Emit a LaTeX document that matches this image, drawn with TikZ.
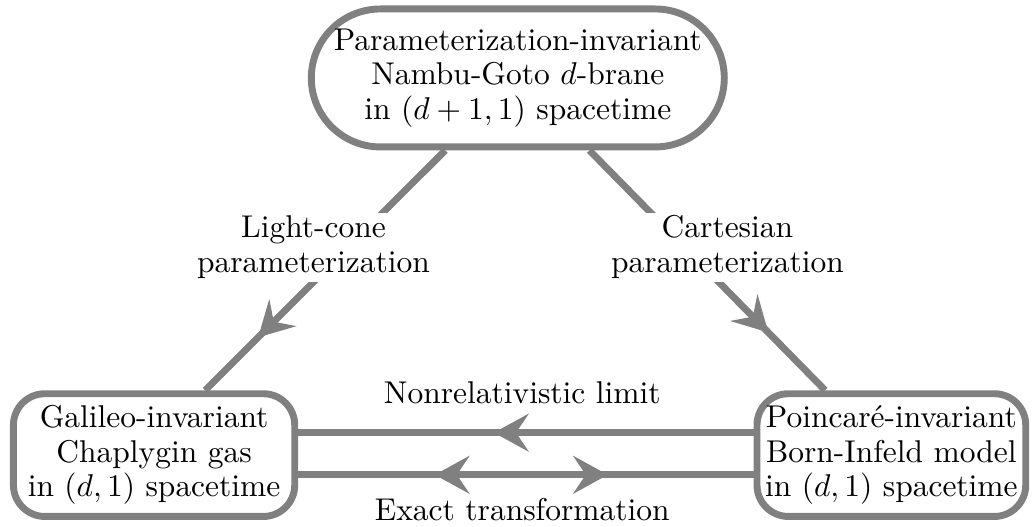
\documentclass[tikz,border=0pt]{standalone}
\usepackage{amsmath}
\usepackage{tikz}
\usetikzlibrary{decorations.markings,arrows.meta,shapes}
\newcommand{\linew}{2.2pt}
\newcommand{\tipl}{11pt}
\newcommand{\tipw}{12pt}

\begin{document}
\begin{tikzpicture}[scale=1]
    \tikzset{
        model/.style = {draw=gray, line width=\linew, align=center, inner sep=0pt,
            minimum height=1.37cm, rounded corners=0.35cm,
            font=\fontsize{10}{11}\selectfont},
        link/.style = {color=gray, line width=\linew},
        lbl/.style = {fill=white, align=center, inner sep=1pt,
            font=\fontsize{10}{11}\selectfont},
        midtip/.tip = {Stealth[length=\tipl, width=\tipw, inset=4pt]},
        midarrow/.style = {postaction={decorate}, decoration={markings,
            mark=at position #1 with {\arrow{midtip}}}},
    }
    \useasboundingbox (0,0) rectangle (11.52,5.88);
    %\draw[help lines] (0,0) grid (11,5);

    \node[model, minimum width=4.61cm, minimum height=1.54cm, rounded corners=0.77cm]
        (brane) at (5.78,5.01) {Parameterization-invariant\\Nambu-Goto $d$-brane\\in $(d+1,1)$ spacetime};
    \node[model, minimum width=3.14cm] (gas) at (1.72,0.80)
        {Galileo-invariant\\Chaplygin gas\\in $(d,1)$ spacetime};
    \node[model, minimum width=3.00cm] (bi) at (9.95,0.80)
        {Poincar\'e-invariant\\Born-Infeld model\\in $(d,1)$ spacetime};

    \draw[link, midarrow=0.78] ([xshift=-0.81cm]brane.south) -- ([xshift=0.57cm]gas.north);
    \draw[link, midarrow=0.76] ([xshift=0.80cm]brane.south) -- ([xshift=-0.74cm]bi.north);
    \draw[link, midarrow=0.57] ([yshift=0.25cm]bi.west) -- ([yshift=0.25cm]gas.east);
    \draw[link, postaction={decorate}, decoration={markings,
            mark=at position 0.30 with {\arrowreversed{midtip}},
            mark=at position 0.68 with {\arrow{midtip}}}]
        ([yshift=-0.22cm]gas.east) -- ([yshift=-0.22cm]bi.west);

    \node[lbl] (lcone) at (3.50,3.12) {Light-cone\\parameterization};
    \node[lbl] (cart) at (8.12,3.12) {Cartesian\\parameterization};
    \node[lbl] (nonrel) at (5.83,1.50) {Nonrelativistic limit};
    \node[lbl] (exact) at (5.83,0.19) {Exact transformation};
\end{tikzpicture}
\end{document}
